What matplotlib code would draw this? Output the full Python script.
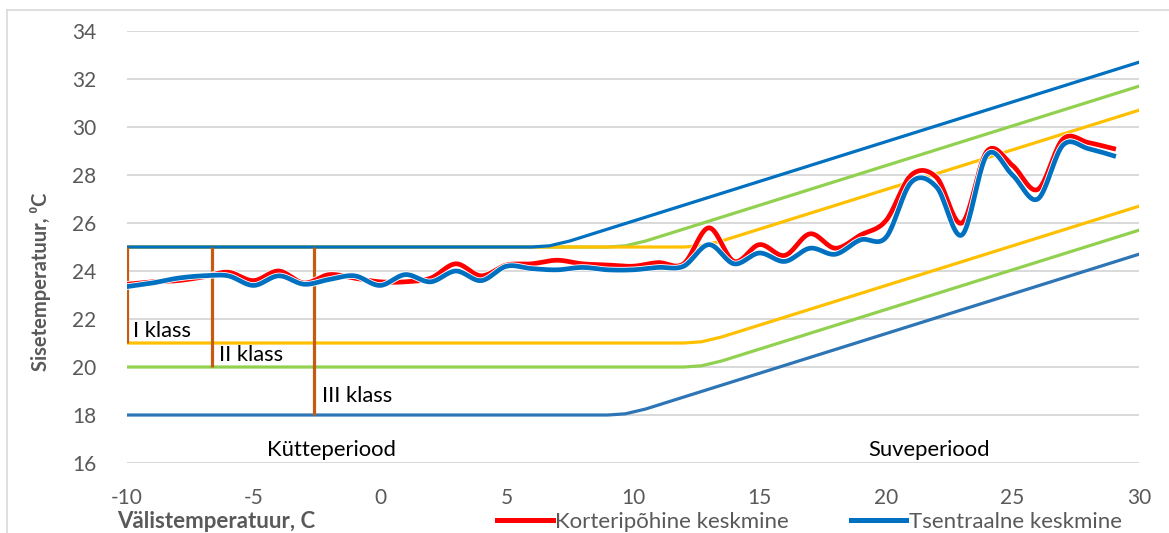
import numpy as np
import matplotlib
matplotlib.use("Agg")
import matplotlib.pyplot as plt
import matplotlib.patheffects as pe
from matplotlib.lines import Line2D

plt.rcParams['font.family'] = ['Lato', 'DejaVu Sans']
plt.rcParams['axes.unicode_minus'] = False

# mõõdetud keskmised (välistemperatuur -> sisetemperatuur)
valis = [-10, -9, -8, -7, -6, -5, -4, -3, -2, -1, 0, 1, 2, 3, 4, 5, 6, 7, 8, 9,
         10, 11, 12, 13, 14, 15, 16, 17, 18, 19, 20, 21, 22, 23, 24, 25, 26, 27, 28, 29]
korter = [23.45, 23.55, 23.6, 23.75, 23.95, 23.6, 24.0, 23.5, 23.85, 23.7,
          23.55, 23.55, 23.7, 24.3, 23.8, 24.25, 24.3, 24.45, 24.3, 24.25,
          24.2, 24.35, 24.3, 25.8, 24.4, 25.1, 24.65, 25.55, 24.95, 25.5,
          26.1, 28.0, 27.9, 26.0, 29.0, 28.4, 27.4, 29.5, 29.35, 29.1]
tsentraal = [23.35, 23.5, 23.7, 23.8, 23.8, 23.4, 23.8, 23.45, 23.65, 23.8,
             23.4, 23.85, 23.55, 24.0, 23.6, 24.2, 24.1, 24.05, 24.15, 24.05,
             24.05, 24.15, 24.2, 25.1, 24.3, 24.75, 24.4, 24.95, 24.7, 25.3,
             25.4, 27.7, 27.5, 25.5, 28.85, 28.0, 27.0, 29.25, 29.1, 28.8]

# klasside piirid (sõlmpunktid)
ulem_III_x = [-10, 6, 6.7, 7.5, 30]
ulem_III_y = [25, 25, 25.05, 25.25, 32.7]
ulem_II_x = [-10, 9, 9.7, 10.5, 30]
ulem_II_y = [25, 25, 25.05, 25.25, 31.7]
ulem_I_x = [-10, 12, 12.7, 13.5, 30]
ulem_I_y = [25, 25, 25.05, 25.25, 30.7]
alum_I_x = [-10, 12, 12.7, 13.5, 30]
alum_I_y = [21, 21, 21.05, 21.25, 26.7]
alum_II_x = [-10, 12, 12.7, 13.5, 30]
alum_II_y = [20, 20, 20.05, 20.25, 25.7]
alum_III_x = [-10, 9, 9.7, 10.5, 30]
alum_III_y = [18, 18, 18.05, 18.25, 24.7]

# klasside markerid: x, alumine, ülemine
klass_x = [-10, -6.65, -2.6]
klass_alum = [21, 20, 18]
klass_ulem = [25, 25, 25]
klass_nimed = ['I klass', 'II klass', 'III klass']


def smooth(x, y, n=20):
    # Excel-laadne silutud joon (Catmull-Rom / Bezier)
    p = np.column_stack([x, y]).astype(float)
    out = []
    t = np.linspace(0, 1, n)[:, None]
    for i in range(len(p) - 1):
        p0 = p[i - 1] if i > 0 else p[i]
        p1 = p[i]
        p2 = p[i + 1]
        p3 = p[i + 2] if i + 2 < len(p) else p[i + 1]
        c1 = p1 + (p2 - p0) / 6
        c2 = p2 - (p3 - p1) / 6
        seg = ((1 - t) ** 3) * p1 + 3 * ((1 - t) ** 2) * t * c1 + 3 * (1 - t) * t ** 2 * c2 + t ** 3 * p2
        out.append(seg if i == 0 else seg[1:])
    out = np.vstack(out)
    return out[:, 0], out[:, 1]


fig = plt.figure(figsize=(11.69, 5.33), dpi=100)
ax = fig.add_axes([0.1086, 0.1313, 0.8657, 0.8105])

ax.set_xlim(-10, 30)
ax.set_ylim(16, 34)
ax.set_yticks(range(16, 35, 2))
ax.set_xticks(range(-10, 31, 5))
ax.grid(axis='y', color='#D9D9D9', lw=1.4)
ax.set_axisbelow(True)
for s in ax.spines.values():
    s.set_visible(False)
ax.tick_params(length=0, labelsize=15, labelcolor='#595959')
ax.tick_params(axis='y', pad=22)
ax.tick_params(axis='x', pad=18)

gray = '#595959'
ax.plot(ulem_II_x, ulem_II_y, color='#92D050', lw=2.3)
ax.plot(ulem_I_x, ulem_I_y, color='#FFC000', lw=2.3)
ax.plot(ulem_III_x, ulem_III_y, color='#0070C0', lw=2.3)
ax.plot(alum_I_x, alum_I_y, color='#FFC000', lw=2.3)
ax.plot(alum_II_x, alum_II_y, color='#92D050', lw=2.3)
ax.plot(alum_III_x, alum_III_y, color='#2E75B6', lw=2.3)

ax.vlines(klass_x, klass_alum, klass_ulem, color='#C55A11', lw=2.3, zorder=4)

halo = [pe.Stroke(linewidth=4.6, foreground='white'), pe.Normal()]
ax.plot(*smooth(valis, korter), color='#FF0000', lw=3.4, path_effects=halo, zorder=5)
ax.plot(*smooth(valis, tsentraal), color='#0070C0', lw=3.4, path_effects=halo, zorder=6)

ax.text(-9.75, 21.5, klass_nimed[0], fontsize=15.8, va='center', ha='left')
ax.text(-6.35, 20.5, klass_nimed[1], fontsize=15.8, va='center', ha='left')
ax.text(-2.3, 18.8, klass_nimed[2], fontsize=15.8, va='center', ha='left')
ax.text(-1.9, 16.55, 'Kütteperiood', fontsize=15.8, va='center', ha='center')
ax.text(21.7, 16.55, 'Suveperiood', fontsize=15.8, va='center', ha='center')

ax.set_ylabel('Sisetemperatuur, \u2070C', fontsize=14.5, fontweight='bold', color=gray)
ax.yaxis.set_label_coords(-0.075, 0.42)
fig.text(117 / 1169, 1 - 521 / 533, 'Välistemperatuur, C', fontsize=16,
         fontweight='bold', color=gray, ha='left', va='center')

h1 = Line2D([], [], color='#FF0000', lw=3.6)
h2 = Line2D([], [], color='#0070C0', lw=3.6)
fig.legend([h1, h2], ['Korteripõhine keskmine', 'Tsentraalne keskmine'],
           loc='center left', bbox_to_anchor=(497 / 1169, 1 - 522 / 533), ncol=2,
           frameon=False, fontsize=16, handlelength=2.5, handletextpad=0.1,
           columnspacing=2.8, borderaxespad=0, borderpad=0,
           labelcolor=gray)

# diagrammi raam
fig.add_artist(Line2D([7 / 1169, 7 / 1169], [0, 1 - 10 / 533], color='#D9D9D9', lw=1.2))
fig.add_artist(Line2D([7 / 1169, 1], [1 - 10 / 533, 1 - 10 / 533], color='#D9D9D9', lw=1.2))

fig.savefig('out.png', dpi=100)
